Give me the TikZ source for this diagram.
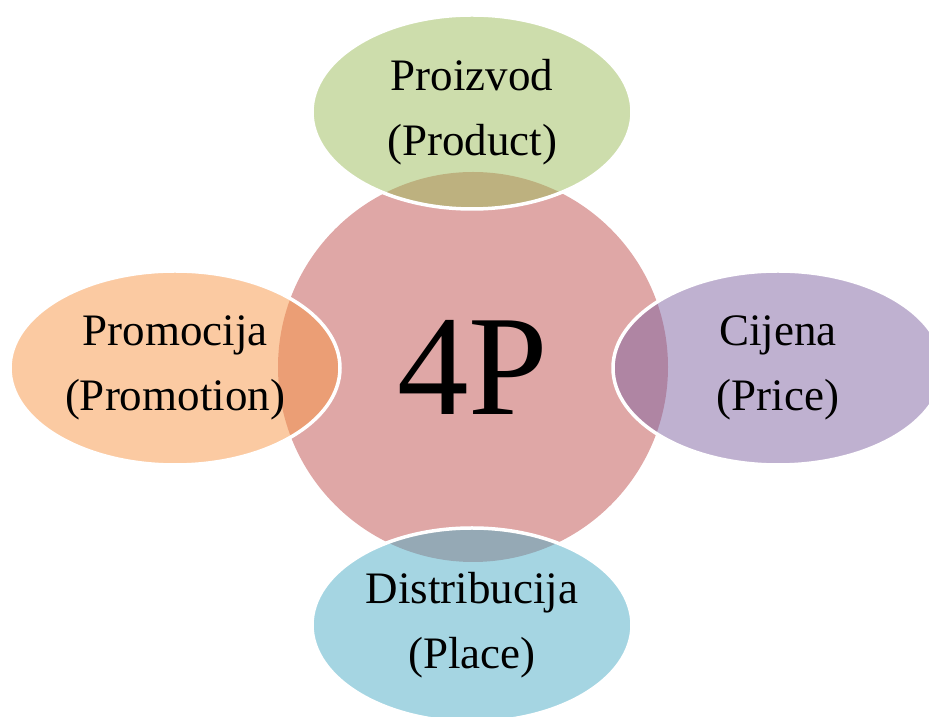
\documentclass[tikz,border=0pt]{standalone}
\usepackage{fontspec}
\setmainfont{Liberation Serif}
\usetikzlibrary{shapes.geometric}
\definecolor{redacc}{HTML}{C0504D}
\definecolor{greenacc}{HTML}{9BBB59}
\definecolor{orangeacc}{HTML}{F79646}
\definecolor{purpleacc}{HTML}{8064A2}
\definecolor{blueacc}{HTML}{4BACC6}
\begin{document}
\begin{tikzpicture}[x=1pt,y=1pt,
    pe/.style={ellipse,draw=white,line width=3.5pt,fill opacity=0.5,text opacity=1,
      minimum width=324pt,minimum height=194pt,inner sep=0pt,align=center,
      font=\fontsize{45}{65}\selectfont}]
    \useasboundingbox (0,0) rectangle (929,717);
    \clip (0,0) rectangle (929,717);
    \node (core) [circle,fill=redacc,fill opacity=0.5,text opacity=1,minimum size=390pt,
      inner sep=0pt,font=\fontsize{143}{143}\selectfont] at (473,350) {4P};
    \node (product) [pe,fill=greenacc,minimum width=320pt] at (472,605) {Proizvod\\(Product)};
    \node (promotion) [pe,fill=orangeacc,minimum width=330pt] at (175,349) {Promocija\\(Promotion)};
    \node (price) [pe,fill=purpleacc,minimum width=330pt] at (778,349) {Cijena\\(Price)};
    \node (place) [pe,fill=blueacc,minimum width=320pt] at (472,92) {Distribucija\\(Place)};
  \end{tikzpicture}
\end{document}
